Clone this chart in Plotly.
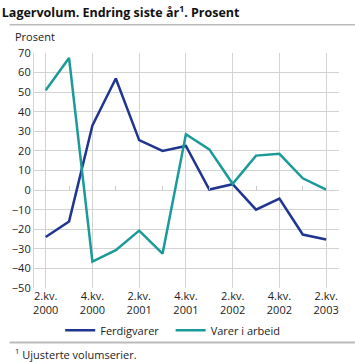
import plotly.graph_objects as go

quarters = ["2.kv. 2000", "3.kv. 2000", "4.kv. 2000", "1.kv. 2001", "2.kv. 2001", "3.kv. 2001",
            "4.kv. 2001", "1.kv. 2002", "2.kv. 2002", "3.kv. 2002", "4.kv. 2002", "1.kv. 2003", "2.kv. 2003"]
ferdigvarer = [-24, -16, 33, 57, 25.5, 20, 22.5, 0.3, 3, -10, -4.3, -22.7, -25.2]
varer_i_arbeid = [51, 67.5, -36.5, -30.7, -20.7, -32.5, 28.5, 20.8, 3.2, 17.6, 18.5, 6, 0.2]

tick_pos = [0, 2, 4, 6, 8, 10, 12]
tick_text = ["2.kv.<br>2000", "4.kv.<br>2000", "2.kv.<br>2001", "4.kv.<br>2001",
             "2.kv.<br>2002", "4.kv.<br>2002", "2.kv.<br>2003"]
y_ticks = [70, 60, 50, 40, 30, 20, 10, 0, -10, -20, -30, -40, -50]

x_idx = list(range(len(quarters)))
y_min, y_max = -50, 70

fig = go.Figure()
fig.add_trace(go.Scatter(x=x_idx, y=ferdigvarer, mode="lines", name="Ferdigvarer",
                         line=dict(color="#1f3590", width=2.5), legend="legend"))
fig.add_trace(go.Scatter(x=x_idx, y=varer_i_arbeid, mode="lines", name="Varer i arbeid",
                         line=dict(color="#1a9a98", width=2.5), legend="legend2"))
# invisible trace on the secondary x axis (for zero-line ticks)
fig.add_trace(go.Scatter(x=x_idx, y=[None]*len(x_idx), xaxis="x2", showlegend=False,
                         hoverinfo="skip"))

legend_style = dict(orientation="h", xanchor="left", y=-0.18, yanchor="middle",
                    bgcolor="rgba(0,0,0,0)", font=dict(size=11, color="#222"))

fig.update_layout(
    width=355, height=362,
    margin=dict(l=24, r=16, t=53, b=74),
    paper_bgcolor="white", plot_bgcolor="white",
    font=dict(family="Open Sans, DejaVu Sans, sans-serif", size=11, color="#222"),
    title=dict(text="<b>Lagervolum. Endring siste år<sup>1</sup>. Prosent</b>",
               x=0.005, xanchor="left", y=0.965, yanchor="middle",
               font=dict(size=12.5, color="#111")),
    showlegend=True,
    legend=dict(x=0.086, **legend_style),
    legend2=dict(x=0.448, **legend_style),
    xaxis=dict(range=[-0.5, 12.55], tickmode="array", tickvals=tick_pos, ticktext=tick_text,
               showgrid=True, gridcolor="#d3d3d3", gridwidth=1.2, zeroline=False,
               showline=False, ticks="", tickfont=dict(size=11, color="#222")),
    xaxis2=dict(range=[-0.5, 12.55], overlaying="x", anchor="free",
                position=(0 - y_min) / (y_max - y_min), side="bottom",
                tickmode="linear", tick0=0, dtick=1, ticks="inside", ticklen=4,
                tickcolor="#c8c8c8", tickwidth=1, showticklabels=False,
                showgrid=False, zeroline=False, showline=False),
    yaxis=dict(range=[y_min, y_max], tickmode="array", tickvals=y_ticks,
               showgrid=True, gridcolor="#d3d3d3", gridwidth=1.2, zeroline=False,
               showline=True, linecolor="#d3d3d3", linewidth=1.2, ticks="",
               tickfont=dict(size=11, color="#222")),
)

fig.add_annotation(text="Prosent", xref="paper", yref="paper", x=-0.07, y=1.03,
                   xanchor="left", yanchor="bottom", showarrow=False,
                   font=dict(size=11, color="#222"))
fig.add_annotation(text="<sup>1</sup> Ujusterte volumserier.", xref="paper", yref="paper",
                   x=-0.07, y=-0.28, xanchor="left", yanchor="middle", showarrow=False,
                   font=dict(size=11, color="#222"))
# horizontal rules under title and above footnote
fig.add_shape(type="line", xref="paper", yref="paper", x0=-0.08, x1=1.06, y0=1.12, y1=1.12,
              line=dict(color="#bbbbbb", width=1.5))
fig.add_shape(type="line", xref="paper", yref="paper", x0=-0.08, x1=1.06, y0=-0.232, y1=-0.232,
              line=dict(color="#bbbbbb", width=2))

fig.write_html("out.html", config={"displayModeBar": False},
               post_script="document.body.style.margin='0';document.body.style.padding='0';")
